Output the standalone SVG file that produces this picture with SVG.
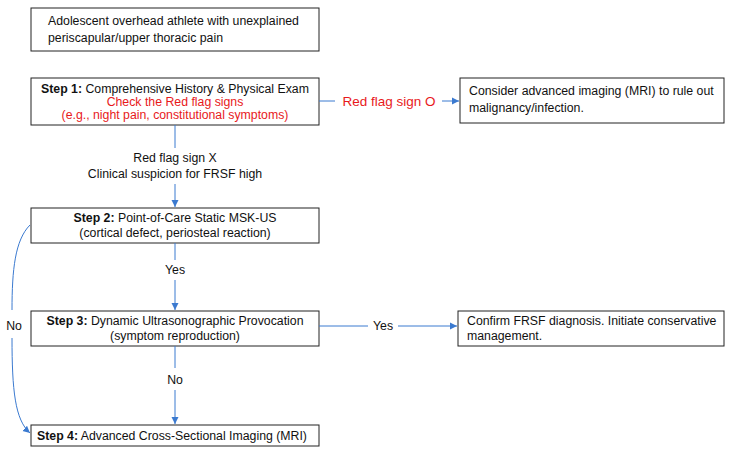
<svg xmlns="http://www.w3.org/2000/svg" width="756" height="451" viewBox="0 0 756 451">
<style>
.b{fill:#fff;stroke:#222;stroke-width:1}
text{font-family:"Liberation Sans",Arial,sans-serif;font-size:12.3px;fill:#111}
.r{fill:#e8191b}
.c{text-anchor:middle}
.l{fill:none;stroke:#3b7ad0;stroke-width:1}
</style>
<defs><marker id="a" markerWidth="8" markerHeight="8" refX="7" refY="4" orient="auto" markerUnits="userSpaceOnUse"><path d="M0,0.5 L7,4 L0,7.5z" fill="#3b7ad0"/></marker></defs>
<g id="n0"><rect class="b" x="31" y="8" width="288" height="43"/><text x="48" y="25">Adolescent overhead athlete with unexplained</text><text x="48" y="42">periscapular/upper thoracic pain</text></g>
<g id="n1"><rect class="b" x="31" y="78" width="288" height="47"/><text class="c" x="175" y="93"><tspan font-weight="bold">Step 1:</tspan> Comprehensive History &amp; Physical Exam</text><text class="c r" x="175" y="106">Check the Red flag signs</text><text class="c r" x="175" y="119">(e.g., night pain, constitutional symptoms)</text></g>
<g id="n2"><rect class="b" x="460" y="78" width="264" height="45"/><text x="469" y="95">Consider advanced imaging (MRI) to rule out</text><text x="469" y="112">malignancy/infection.</text></g>
<g id="n3"><rect class="b" x="31" y="208" width="288" height="35"/><text class="c" x="175" y="222"><tspan font-weight="bold">Step 2:</tspan> Point-of-Care Static MSK-US</text><text class="c" x="175" y="237">(cortical defect, periosteal reaction)</text></g>
<g id="n4"><rect class="b" x="31" y="311" width="288" height="35"/><text class="c" x="175" y="325"><tspan font-weight="bold">Step 3:</tspan> Dynamic Ultrasonographic Provocation</text><text class="c" x="175" y="340">(symptom reproduction)</text></g>
<g id="n5"><rect class="b" x="458" y="311" width="266" height="35"/><text x="467" y="325">Confirm FRSF diagnosis. Initiate conservative</text><text x="467" y="340">management.</text></g>
<g id="n6"><rect class="b" x="31" y="425" width="288" height="21"/><text x="37" y="440"><tspan font-weight="bold">Step 4:</tspan> Advanced Cross-Sectional Imaging (MRI)</text></g>
<g id="edges">
<path class="l" d="M319,101 H335 M442,101 H459" marker-end="url(#a)"/>
<text class="r c" x="389" y="106" style="font-size:13.5px">Red flag sign O</text>
<path class="l" d="M175,125 V148 M175,184 V207" marker-end="url(#a)"/>
<text class="c" x="175" y="162">Red flag sign X</text><text class="c" x="175" y="178">Clinical suspicion for FRSF high</text>
<path class="l" d="M175,243 V260 M175,280 V310" marker-end="url(#a)"/>
<text class="c" x="175" y="274">Yes</text>
<path class="l" d="M175,346 V368 M175,390 V424" marker-end="url(#a)"/>
<text class="c" x="175" y="384">No</text>
<path class="l" d="M319,326 H368 M398,326 H457" marker-end="url(#a)"/>
<text class="c" x="383" y="330">Yes</text>
<path class="l" d="M30,225 C15,240 12,270 12,310 M12,338 C12,390 15,420 30,433" marker-end="url(#a)"/>
<text class="c" x="14" y="330">No</text>
</g>
</svg>
